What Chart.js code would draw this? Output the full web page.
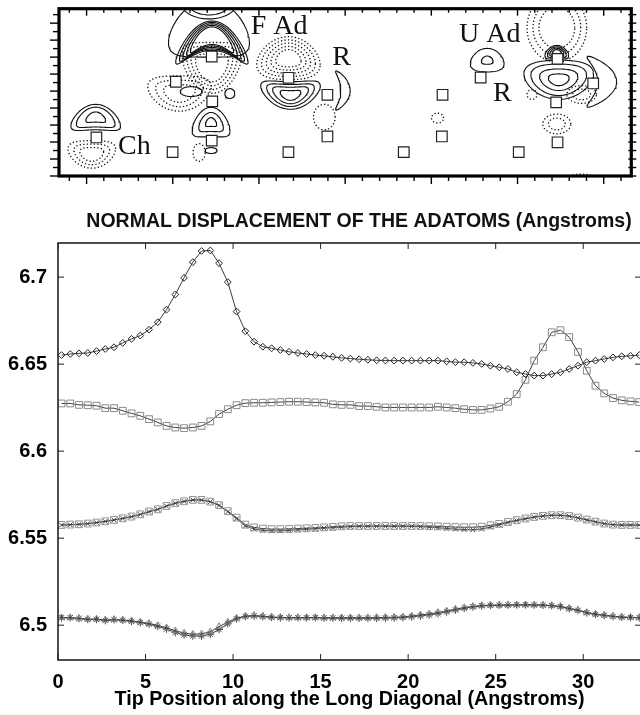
<!DOCTYPE html>
<html>
<head>
<meta charset="utf-8">
<title>Normal displacement of the adatoms</title>
<script src="https://cdn.jsdelivr.net/npm/chart.js@4/dist/chart.umd.min.js"></script>
<style>
  html, body { margin: 0; padding: 0; background: #fff; width: 640px; height: 715px; overflow: hidden; }
  #mapBox { position: absolute; left: 0; top: 0; }
  #plotBox { position: absolute; left: 0; top: 185px; }
</style>
</head>
<body>
<div id="mapBox"><canvas id="map" width="640" height="185"></canvas></div>
<div id="plotBox"><canvas id="plot" width="718" height="530"></canvas></div>
<script>
// ---- map of the surface cell (top panel) ----
// square markers: atom sites
var siteX = [1.57, 5.99, 6.18, 8.26, 8.29, 8.26, 12.71, 12.71, 14.97, 14.97, 19.40, 21.65, 21.61, 23.86, 26.07, 28.32, 28.24, 28.32, 30.39];
var siteY = [4.54, 2.81, 11.10, 14.07, 8.79, 4.16, 11.56, 2.81, 9.56, 4.66, 2.81, 9.56, 4.66, 11.60, 2.81, 13.79, 8.67, 3.97, 10.90];

// site labels
var mapLabels = ['F Ad', 'R', 'U Ad', 'R', 'Ch'];
var labelX = [10.52, 15.25, 22.61, 24.57, 2.82];
var labelY = [16.68, 13.10, 15.72, 8.79, 2.62];

// contour families: [cx, cy, rx, ry, bendX, bendY, dotted, ring scales]
var contourRings = [
  [1.53, 6.94, 1.44, 1.50, 0, 0.7, 0, [1, 0.78, 0.4]],
  [1.30, 2.54, 1.38, 1.62, 0, -0.4, 1, [1, 0.75, 0.5]],
  [8.27, 16.53, 2.10, 1.73, 0, 1.8, 0, [1, 0.9, 0.8, 0.7, 0.6]],
  [8.10, 20.35, 1.60, 1.85, 0, 0, 0, [1, 0.75]],
  [8.10, 17.40, 2.35, 3.40, 0, 0.5, 0, [1]],
  [8.27, 12.72, 1.73, 3.00, 0, -0.5, 1, [1, 0.85, 0.7, 0.55]],
  [6.39, 9.71, 1.84, 2.08, 0, -0.4, 1, [1, 0.75, 0.5]],
  [7.06, 9.94, 0.63, 0.58, 0, 0, 0, [1]],
  [9.31, 9.71, 0.29, 0.58, 0, 0, 0, [1]],
  [8.22, 6.36, 1.10, 1.73, 0, 0.6, 0, [1, 0.65, 0.3]],
  [7.53, 2.77, 0.35, 1.04, 0, 0, 1, [1]],
  [8.22, 3.00, 0.35, 0.35, 0, 0, 0, [1]],
  [12.71, 13.87, 1.84, 2.54, 0, 0.3, 1, [1, 0.85, 0.7, 0.55, 0.4]],
  [12.83, 9.48, 1.73, 1.62, 0, -0.7, 0, [1, 0.8, 0.6, 0.35]],
  [16.02, 10.06, 0.27, 2.31, -2.0, 0, 0, [1]],
  [14.79, 6.94, 0.63, 1.50, 0, 0, 1, [1]],
  [24.24, 13.64, 0.98, 1.39, 0, 0.3, 0, [1, 0.35]],
  [21.36, 6.82, 0.35, 0.58, 0, 0, 1, [1]],
  [28.28, 17.46, 1.73, 4.05, 0, 0, 1, [1, 0.8, 0.6]],
  [28.39, 11.33, 2.02, 2.31, 0, -0.3, 0, [1, 0.8, 0.55, 0.3]],
  [28.28, 14.57, 0.69, 0.81, 0, 0.5, 0, [1, 0.8, 0.6, 0.4]],
  [31.20, 11.10, 0.55, 3.00, -2.0, 0, 0, [1]],
  [28.28, 6.13, 0.81, 1.16, 0, 0, 1, [1, 0.6]],
  [29.72, 9.60, 0.86, 1.04, 0, 0, 1, [1, 0.6]],
  [26.84, 9.60, 0.29, 0.58, 0, 0, 1, [1]],
  [29.72, -0.23, 0.69, 0.46, 0, 0, 1, [1]]
];

// ---- normal displacement of the adatoms (bottom panel) ----
var tipPos = [
  0.2, 0.7, 1.2, 1.7, 2.2, 2.7, 3.2, 3.7, 4.2, 4.7,
  5.2, 5.7, 6.2, 6.7, 7.2, 7.7, 8.2, 8.7, 9.2, 9.7,
  10.2, 10.7, 11.2, 11.7, 12.2, 12.7, 13.2, 13.7, 14.2, 14.7,
  15.2, 15.7, 16.2, 16.7, 17.2, 17.7, 18.2, 18.7, 19.2, 19.7,
  20.2, 20.7, 21.2, 21.7, 22.2, 22.7, 23.2, 23.7, 24.2, 24.7,
  25.2, 25.7, 26.2, 26.7, 27.2, 27.7, 28.2, 28.7, 29.2, 29.7,
  30.2, 30.7, 31.2, 31.7, 32.2, 32.7, 33.2
];

var faultedAd = [
  6.6552, 6.6558, 6.6562, 6.6564, 6.6575, 6.6587, 6.6597, 6.6622, 6.6645, 6.6664,
  6.6698, 6.6741, 6.6813, 6.6900, 6.6996, 6.7086, 6.7150, 6.7153, 6.7080, 6.6971,
  6.6802, 6.6689, 6.6629, 6.6600, 6.6591, 6.6581, 6.6571, 6.6564, 6.6558, 6.6552,
  6.6548, 6.6542, 6.6536, 6.6532, 6.6528, 6.6525, 6.6522, 6.6521, 6.6520, 6.6520,
  6.6520, 6.6520, 6.6520, 6.6520, 6.6516, 6.6511, 6.6511, 6.6507, 6.6501, 6.6491,
  6.6482, 6.6472, 6.6453, 6.6443, 6.6434, 6.6434, 6.6443, 6.6453, 6.6472, 6.6491,
  6.6511, 6.6520, 6.6530, 6.6539, 6.6545, 6.6548, 6.6552
];

var unfaultedAd = [
  6.6274, 6.6274, 6.6266, 6.6264, 6.6261, 6.6247, 6.6247, 6.6232, 6.6217, 6.6203,
  6.6184, 6.6165, 6.6145, 6.6136, 6.6132, 6.6136, 6.6145, 6.6171, 6.6213, 6.6241,
  6.6264, 6.6276, 6.6278, 6.6278, 6.6280, 6.6282, 6.6284, 6.6284, 6.6282, 6.6280,
  6.6278, 6.6269, 6.6266, 6.6266, 6.6259, 6.6259, 6.6255, 6.6251, 6.6251, 6.6251,
  6.6251, 6.6251, 6.6251, 6.6255, 6.6251, 6.6247, 6.6241, 6.6237, 6.6237, 6.6245,
  6.6255, 6.6284, 6.6328, 6.6410, 6.6520, 6.6597, 6.6683, 6.6695, 6.6655, 6.6570,
  6.6462, 6.6376, 6.6332, 6.6305, 6.6292, 6.6286, 6.6282
];

var restSquare = [
  6.5576, 6.5578, 6.5580, 6.5584, 6.5590, 6.5597, 6.5605, 6.5614, 6.5624, 6.5637,
  6.5653, 6.5666, 6.5685, 6.5701, 6.5712, 6.5720, 6.5720, 6.5710, 6.5690, 6.5655,
  6.5618, 6.5578, 6.5562, 6.5555, 6.5552, 6.5552, 6.5553, 6.5555, 6.5557, 6.5559,
  6.5562, 6.5565, 6.5568, 6.5570, 6.5570, 6.5570, 6.5570, 6.5570, 6.5570, 6.5570,
  6.5570, 6.5570, 6.5569, 6.5568, 6.5566, 6.5564, 6.5563, 6.5563, 6.5566, 6.5574,
  6.5582, 6.5593, 6.5603, 6.5613, 6.5622, 6.5628, 6.5632, 6.5632, 6.5627, 6.5618,
  6.5607, 6.5595, 6.5584, 6.5578, 6.5576, 6.5576, 6.5576
];

var restCross = [
  6.5575, 6.5577, 6.5579, 6.5583, 6.5589, 6.5596, 6.5604, 6.5613, 6.5623, 6.5636,
  6.5652, 6.5665, 6.5684, 6.5700, 6.5711, 6.5719, 6.5719, 6.5709, 6.5688, 6.5652,
  6.5612, 6.5570, 6.5553, 6.5545, 6.5542, 6.5542, 6.5545, 6.5548, 6.5551, 6.5554,
  6.5558, 6.5560, 6.5563, 6.5566, 6.5568, 6.5568, 6.5568, 6.5568, 6.5568, 6.5568,
  6.5568, 6.5566, 6.5563, 6.5560, 6.5556, 6.5552, 6.5549, 6.5548, 6.5553, 6.5564,
  6.5576, 6.5590, 6.5601, 6.5611, 6.5620, 6.5627, 6.5631, 6.5631, 6.5626, 6.5616,
  6.5604, 6.5593, 6.5583, 6.5577, 6.5575, 6.5575, 6.5575
];

var cornerTriangle = [
  6.5043, 6.5043, 6.5040, 6.5035, 6.5035, 6.5030, 6.5033, 6.5030, 6.5025, 6.5018,
  6.5010, 6.4998, 6.4985, 6.4968, 6.4955, 6.4948, 6.4950, 6.4962, 6.4992, 6.5018,
  6.5040, 6.5052, 6.5056, 6.5052, 6.5047, 6.5045, 6.5044, 6.5044, 6.5044, 6.5044,
  6.5043, 6.5043, 6.5043, 6.5043, 6.5043, 6.5043, 6.5044, 6.5045, 6.5046, 6.5048,
  6.5053, 6.5059, 6.5065, 6.5073, 6.5082, 6.5092, 6.5101, 6.5108, 6.5113, 6.5115,
  6.5115, 6.5116, 6.5117, 6.5117, 6.5117, 6.5116, 6.5113, 6.5108, 6.5097, 6.5087,
  6.5073, 6.5064, 6.5058, 6.5052, 6.5047, 6.5045, 6.5044
];

var cornerStar = [
  6.5043, 6.5043, 6.5038, 6.5033, 6.5033, 6.5027, 6.5031, 6.5028, 6.5022, 6.5015,
  6.5006, 6.4993, 6.4978, 6.4958, 6.4944, 6.4938, 6.4938, 6.4948, 6.4975, 6.5008,
  6.5036, 6.5050, 6.5053, 6.5049, 6.5045, 6.5043, 6.5042, 6.5042, 6.5042, 6.5043,
  6.5041, 6.5041, 6.5040, 6.5040, 6.5040, 6.5040, 6.5040, 6.5041, 6.5042, 6.5044,
  6.5048, 6.5053, 6.5059, 6.5067, 6.5076, 6.5087, 6.5097, 6.5105, 6.5111, 6.5114,
  6.5115, 6.5116, 6.5117, 6.5117, 6.5116, 6.5115, 6.5112, 6.5106, 6.5095, 6.5085,
  6.5071, 6.5062, 6.5056, 6.5050, 6.5046, 6.5044, 6.5043
];

var xTicks = [0, 5, 10, 15, 20, 25, 30];
var yTicks = [6.5, 6.55, 6.6, 6.65, 6.7];
var plotTitle = 'NORMAL DISPLACEMENT OF THE ADATOMS (Angstroms)';

Chart.defaults.font.family = '"Liberation Sans", Arial, sans-serif';
Chart.defaults.color = '#000';

function line(ctx, x1, y1, x2, y2) {
  ctx.beginPath();
  ctx.moveTo(x1, y1);
  ctx.lineTo(x2, y2);
  ctx.stroke();
}

// one closed contour ring, bent into arcs / crescents
function ringPath(c, s) {
  var pts = [];
  for (var k = 0; k <= 72; k++) {
    var t = 2 * Math.PI * k / 72, u = Math.cos(t), v = Math.sin(t);
    pts.push({
      x: c[0] + c[2] * s * u + c[4] * c[2] * s * v * v,
      y: c[1] + c[3] * s * v - c[5] * c[3] * s * u * u
    });
  }
  return pts;
}

var mapSets = [{
  data: siteX.map(function (x, i) { return { x: x, y: siteY[i] }; }),
  showLine: false,
  pointStyle: 'rect',
  pointRadius: 7.5,
  pointBorderWidth: 1.2,
  pointBorderColor: '#222',
  pointBackgroundColor: '#fff',
  order: -1
}];
contourRings.forEach(function (c) {
  c[7].forEach(function (s) {
    mapSets.push({
      data: ringPath(c, s),
      showLine: true,
      pointRadius: 0,
      borderColor: '#111',
      borderWidth: c[6] ? 1.3 : 1.1,
      borderDash: c[6] ? [1.3, 2.2] : [],
      tension: 0
    });
  });
});

// thick frame, ticks and the site labels of the map
var mapFrame = {
  id: 'mapFrame',
  afterDraw: function (chart) {
    var a = chart.chartArea, ctx = chart.ctx;
    var xs = chart.scales.x, ys = chart.scales.y;
    ctx.save();
    ctx.fillStyle = '#111';
    ctx.font = '28px "Liberation Serif", "Times New Roman", serif';
    ctx.textAlign = 'left';
    ctx.textBaseline = 'alphabetic';
    mapLabels.forEach(function (t, i) {
      ctx.fillText(t, xs.getPixelForValue(labelX[i]), ys.getPixelForValue(labelY[i]));
    });
    ctx.strokeStyle = '#000';
    ctx.lineWidth = 1.4;
    for (var k = 0; k <= 32; k++) {
      var px = xs.getPixelForValue(k);
      var big = (k % 5 === 1);
      line(ctx, px, a.bottom, px, a.bottom + (big ? 8 : 5));
      line(ctx, px, a.top, px, a.top + (big ? 7 : 4));
    }
    for (var j = 0; j <= 19; j++) {
      var py = ys.getPixelForValue(j);
      line(ctx, a.left, py, a.left - (j % 2 ? 6 : 9), py);
      line(ctx, a.right - 3, py, a.right + 5, py);
    }
    ctx.lineWidth = 3.2;
    ctx.strokeRect(a.left, a.top, a.right - a.left, a.bottom - a.top);
    ctx.restore();
  }
};

new Chart(document.getElementById('map'), {
  type: 'scatter',
  data: { datasets: mapSets },
  options: {
    responsive: false,
    animation: false,
    events: [],
    layout: { padding: { left: 59, right: 5, top: 5, bottom: 9 } },
    plugins: { legend: { display: false }, tooltip: { enabled: false } },
    scales: {
      x: { type: 'linear', min: -0.6, max: 32.6, display: false },
      y: { type: 'linear', min: 0, max: 19.7, display: false }
    }
  },
  plugins: [mapFrame]
});

// ---- displacement curves ----
function series(label, values, style, radius, color) {
  return {
    label: label,
    data: values.map(function (v, i) { return { x: tipPos[i], y: v }; }),
    showLine: true,
    borderColor: '#3c3c3c',
    borderWidth: 1,
    pointStyle: style,
    pointRadius: radius,
    pointBorderColor: color,
    pointBackgroundColor: 'rgba(255,255,255,0)',
    pointBorderWidth: 1,
    tension: 0
  };
}

// frame with inward ticks, plus the heading above the plot
var plotFrame = {
  id: 'plotFrame',
  afterDraw: function (chart) {
    var a = chart.chartArea, ctx = chart.ctx;
    var xs = chart.scales.x, ys = chart.scales.y;
    ctx.save();
    ctx.fillStyle = '#111';
    ctx.font = 'bold 19.5px "Liberation Sans", Arial, sans-serif';
    ctx.textAlign = 'center';
    ctx.textBaseline = 'middle';
    ctx.fillText(plotTitle, 359, 37);
    ctx.strokeStyle = '#222';
    ctx.lineWidth = 1;
    xTicks.forEach(function (v) {
      var px = xs.getPixelForValue(v);
      line(ctx, px, a.bottom, px, a.bottom - 6);
      line(ctx, px, a.top, px, a.top + 6);
    });
    yTicks.forEach(function (v) {
      var py = ys.getPixelForValue(v);
      line(ctx, a.left, py, a.left + 6, py);
      line(ctx, a.right, py, a.right - 6, py);
    });
    ctx.lineWidth = 1.6;
    ctx.strokeRect(a.left, a.top, a.right - a.left, a.bottom - a.top);
    ctx.restore();
  }
};

new Chart(document.getElementById('plot'), {
  type: 'scatter',
  data: {
    datasets: [
      series('F Ad', faultedAd, 'rectRot', 3.4, '#222'),
      series('U Ad', unfaultedAd, 'rect', 4.8, '#8a8a8a'),
      series('R', restSquare, 'rect', 4.8, '#939393'),
      series('R', restCross, 'crossRot', 3.4, '#4a4a4a'),
      series('Ch', cornerTriangle, 'triangle', 3.8, '#808080'),
      series('Ch', cornerStar, 'star', 3.8, '#4a4a4a')
    ]
  },
  options: {
    responsive: false,
    animation: false,
    events: [],
    layout: { padding: { left: 0, right: 77, top: 58, bottom: 0 } },
    plugins: {
      legend: { display: false },
      tooltip: { enabled: false }
    },
    scales: {
      x: {
        type: 'linear',
        min: 0,
        max: 33.3,
        afterBuildTicks: function (axis) {
          axis.ticks = xTicks.map(function (v) { return { value: v }; });
        },
        afterFit: function (scale) { scale.height = 55; },
        grid: { display: false, drawTicks: false },
        border: { display: false },
        ticks: { font: { size: 20, weight: 'bold' }, color: '#000', padding: 10, maxRotation: 0 },
        title: {
          display: true,
          text: 'Tip Position along the Long Diagonal (Angstroms)',
          color: '#000',
          font: { size: 19.7, weight: 'bold' },
          padding: { top: 0, bottom: 4 }
        }
      },
      y: {
        type: 'linear',
        min: 6.48,
        max: 6.7196,
        afterBuildTicks: function (axis) {
          axis.ticks = yTicks.map(function (v) { return { value: v }; });
        },
        afterFit: function (scale) { scale.width = 58; },
        grid: { display: false, drawTicks: false },
        border: { display: false },
        ticks: {
          font: { size: 20, weight: 'bold' },
          color: '#000',
          padding: 11,
          callback: function (v) { return v.toFixed(2).replace(/0$/, ''); }
        }
      }
    }
  },
  plugins: [plotFrame]
});
</script>
</body>
</html>
